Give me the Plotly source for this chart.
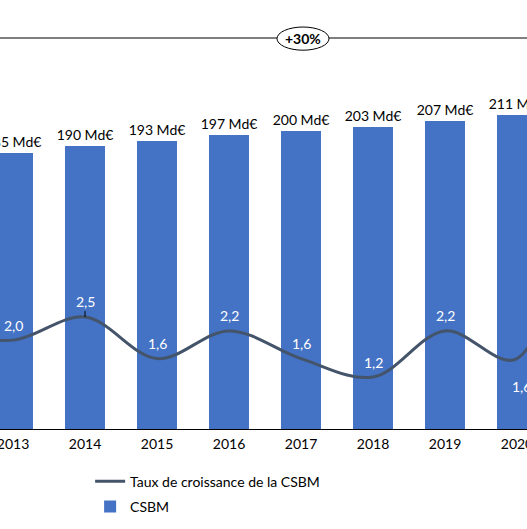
import plotly.graph_objects as go

# ---- data ----
bar_years = [2013, 2014, 2015, 2016, 2017, 2018, 2019, 2020]
csbm_values = [185, 190, 193, 197, 200, 203, 207, 211]
csbm_labels = ["185 Md€", "190 Md€", "193 Md€", "197 Md€", "200 Md€", "203 Md€", "207 Md€", "211 Md€"]

growth_years = [2012, 2013, 2014, 2015, 2016, 2017, 2018, 2019, 2020, 2021]
growth_values = [2.2, 2.0, 2.5, 1.6, 2.2, 1.6, 1.2, 2.2, 1.6, 9.0]
growth_labels = ["2,2", "2,0", "2,5", "1,6", "2,2", "1,6", "1,2", "2,2", "1,6", ""]

tick_years = [2013, 2014, 2015, 2016, 2017, 2018, 2019, 2020]
tick_text = ["2013", "2014", "2015", "2016", "2017", "2018", "2019", "2020"]

total_label = "+30%"

FONT = "Lato"
BAR_COLOR = "#4472C4"
LINE_COLOR = "#44546A"

fig = go.Figure()

fig.add_trace(go.Scatter(
    x=growth_years, y=growth_values, yaxis="y2",
    mode="lines", line=dict(color=LINE_COLOR, width=3, shape="spline", smoothing=1),
    name="Taux de croissance de la CSBM", legendgroup="g1", hoverinfo="skip",
))

fig.add_trace(go.Bar(
    x=bar_years, y=csbm_values, width=0.555,
    marker=dict(color=BAR_COLOR, line=dict(width=0)),
    text=csbm_labels, textposition="outside", constraintext="none",
    textfont=dict(family=FONT, size=14, color="black"),
    cliponaxis=False, name="CSBM", legendgroup="g2", hoverinfo="skip",
))

annotations = []
for i, (yr, v, lab) in enumerate(zip(growth_years, growth_values, growth_labels)):
    if not lab or yr < 2013 or yr > 2020:
        continue
    if yr == 2014:
        annotations.append(dict(
            x=yr, y=v, xref="x", yref="y2", text=lab, showarrow=True,
            ax=0, ay=-16, arrowhead=0, arrowwidth=1, arrowcolor="black",
            font=dict(family=FONT, size=14, color="white"),
        ))
    elif yr == 2020:
        annotations.append(dict(
            x=yr, y=v, xref="x", yref="y2", text=lab, showarrow=False,
            xshift=5, yshift=-28,
            font=dict(family=FONT, size=14, color="white"),
        ))
    else:
        annotations.append(dict(
            x=yr, y=v, xref="x", yref="y2", text=lab, showarrow=False,
            yshift=15,
            font=dict(family=FONT, size=14, color="white"),
        ))

annotations.append(dict(
    x=0.575, y=0.9114, xref="paper", yref="paper", text="<b>" + total_label + "</b>",
    showarrow=False, xanchor="center", yanchor="middle",
    font=dict(family=FONT, size=14, color="black"),
))

shapes = [
    dict(type="line", xref="paper", yref="paper", x0=0, x1=1, y0=0.9114, y1=0.9114,
         line=dict(color="black", width=1), layer="below"),
    dict(type="circle", xref="paper", yref="paper", x0=0.5256, x1=0.6243, y0=0.883, y1=0.937,
         fillcolor="white", line=dict(color="black", width=1), layer="below"),
]

fig.update_layout(
    width=527, height=529,
    margin=dict(l=0, r=0, t=0, b=100, pad=0),
    paper_bgcolor="white", plot_bgcolor="white",
    font=dict(family=FONT, size=14, color="black"),
    xaxis=dict(range=[2012.819, 2020.139], tickmode="array", tickvals=tick_years, ticktext=tick_text,
               showline=True, linecolor="black", linewidth=1, ticks="", showgrid=False,
               zeroline=False, automargin=False, ticklabeloverflow="allow",
               ticklabelstandoff=2,
               tickfont=dict(family=FONT, size=14, color="black")),
    yaxis=dict(range=[0, 287.9], visible=False, showgrid=False, zeroline=False),
    yaxis2=dict(range=[0.074, 9.37], overlaying="y", side="right", visible=False,
                showgrid=False, zeroline=False),
    showlegend=True,
    legend=dict(orientation="v", x=0.171, xanchor="left", y=-0.0857, yanchor="top",
                bgcolor="rgba(0,0,0,0)", borderwidth=0, traceorder="grouped",
                tracegroupgap=4, itemwidth=30,
                font=dict(family=FONT, size=14, color="black")),
    annotations=annotations,
    shapes=shapes,
    bargap=0,
)

fig.write_html("out.html")
